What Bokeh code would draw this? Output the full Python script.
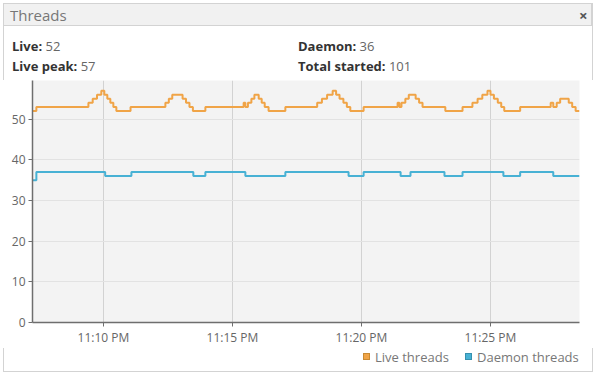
from datetime import datetime, timedelta
from bokeh.plotting import figure
from bokeh.layouts import column
from bokeh.models import (Range1d, FixedTicker, DatetimeTickFormatter, Div,
                          ColumnDataSource)
from bokeh.embed import file_html
from bokeh.resources import INLINE

# ---- data (minutes:seconds after 23:00) ----
live_times = ["07:15", "07:24", "09:25", "09:35", "09:45", "09:55", "10:02", "10:09", "10:16",
              "10:23", "10:30", "11:03", "12:24", "12:32", "12:40", "13:04", "13:12", "13:20",
              "13:28", "13:57", "15:26", "15:30", "15:36", "15:44", "15:51", "16:01", "16:08",
              "16:15", "16:24", "17:03", "18:17", "18:28", "18:40", "18:53", "19:01", "19:09",
              "19:18", "19:26", "19:34", "20:05", "21:24", "21:28", "21:33", "21:42", "21:50",
              "22:06", "22:14", "22:22", "23:15", "23:55", "24:18", "24:30", "24:41", "24:53",
              "25:00", "25:08", "25:17", "25:25", "25:32", "26:09", "27:20", "27:26", "27:34",
              "27:42", "28:02", "28:10", "28:18", "28:27"]
live_values = [52, 53, 54, 55, 56, 57, 56, 55, 54,
               53, 52, 53, 54, 55, 56, 55, 54, 53,
               52, 53, 54, 53, 54, 55, 56, 55, 54,
               53, 52, 53, 54, 55, 56, 57, 56, 55,
               54, 53, 52, 53, 54, 53, 54, 55, 56,
               55, 54, 53, 52, 53, 54, 55, 56, 57,
               56, 55, 54, 53, 52, 53, 54, 53, 54,
               55, 54, 53, 52, 52]

daemon_times = ["07:15", "07:24", "10:04", "11:05", "13:29", "13:57", "15:30", "17:03", "19:30",
                "20:05", "21:31", "21:54", "23:13", "23:55", "25:30", "26:09", "27:26", "28:27"]
daemon_values = [35, 37, 36, 37, 36, 37, 36, 37, 36,
                 37, 36, 37, 36, 37, 36, 37, 36, 36]

x_start, x_end = "07:15", "28:27"
x_tick_times = ["10:00", "15:00", "20:00", "25:00"]
y_ticks = [0, 10, 20, 30, 40, 50]
y_max = 59.5

panel_title = "Threads"
stat_names = ["Live:", "Live peak:", "Daemon:", "Total started:"]
stat_values = ["52", "57", "36", "101"]
series_names = ["Live threads", "Daemon threads"]

BASE = datetime(2017, 1, 1, 23, 0, 0)


def to_dt(s):
    m, sec = s.split(":")
    return BASE + timedelta(minutes=int(m), seconds=int(sec))


def to_ms(s):
    return (to_dt(s) - datetime(1970, 1, 1)).total_seconds() * 1000.0


ORANGE = "#F0A447"
BLUE = "#47B1D4"
ORANGE_EDGE = "#C98A33"
BLUE_EDGE = "#3690AE"
FONT = "Open Sans"
W = 600
BORDER = "#D3D3D3"

# ---------------- header + stats strip (HTML) ----------------
stat_pos = [(12, 36), (12, 56), (298, 36), (298, 56)]
spans = []
for name, val, (lx, ty) in zip(stat_names, stat_values, stat_pos):
    spans.append(
        f'<span style="position:absolute;left:{lx}px;top:{ty}px;line-height:20px;'
        f'font-size:13px;white-space:nowrap;color:#666666;">'
        f'<b style="color:#333333;">{name}</b> {val}</span>')
header_html = (
    f'<div style="position:relative;width:{W}px;height:80px;font-family:\'{FONT}\';'
    f'background:white;overflow:hidden;">'
    f'<div style="position:absolute;left:3px;top:3px;width:590px;height:77px;'
    f'border-left:1px solid {BORDER};border-right:1px solid {BORDER};"></div>'
    f'<div style="position:absolute;left:3px;top:3px;width:589px;height:23px;'
    f'background:#F1F1F1;border:1px solid {BORDER};"></div>'
    f'<span style="position:absolute;left:10px;top:4px;line-height:22px;font-size:15px;'
    f'color:#777777;">{panel_title}</span>'
    f'<span style="position:absolute;left:579px;top:4px;line-height:22px;font-size:15px;'
    f'font-weight:bold;color:#555555;">×</span>'
    + "".join(spans) +
    '</div>')
top = Div(text=header_html, width=W, height=80, margin=(0, 0, 0, 0))

# ---------------- chart ----------------
p = figure(width=W, height=268, x_axis_type="datetime",
           output_backend="svg", toolbar_location=None,
           x_range=Range1d(to_dt(x_start), to_dt(x_end)),
           y_range=Range1d(0, y_max),
           min_border_left=32, min_border_right=21,
           min_border_top=0, min_border_bottom=23, margin=(0, 0, 0, 0))
p.background_fill_color = "#F3F3F3"
p.border_fill_color = "white"
p.outline_line_color = None

p.yaxis.ticker = FixedTicker(ticks=y_ticks)
p.xaxis.ticker = FixedTicker(ticks=[to_ms(t) for t in x_tick_times])
fmt = "%I:%M %p"
p.xaxis.formatter = DatetimeTickFormatter(minutes=fmt, minsec=fmt, hourmin=fmt, hours=fmt,
                                          seconds=fmt, milliseconds=fmt)
for ax in (p.xaxis[0], p.yaxis[0]):
    ax.axis_line_color = "#6E6E6E"
    ax.axis_line_width = 1.5
    ax.major_tick_line_color = "#6E6E6E"
    ax.major_tick_out = 4
    ax.major_tick_in = 0
    ax.minor_tick_line_color = None
    ax.major_label_text_color = "#666666"
    ax.major_label_text_font = FONT
    ax.major_label_text_font_size = "12px"
p.yaxis.major_label_standoff = 3
p.xaxis.major_label_standoff = 2

p.xgrid.grid_line_color = "#D2D2D2"
p.ygrid.grid_line_color = "#E2E2E2"

live_src = ColumnDataSource(dict(x=[to_dt(t) for t in live_times], y=live_values))
daemon_src = ColumnDataSource(dict(x=[to_dt(t) for t in daemon_times], y=daemon_values))
p.step("x", "y", source=live_src, mode="after", line_color=ORANGE, line_width=2)
p.step("x", "y", source=daemon_src, mode="after", line_color=BLUE, line_width=2)

# ---------------- legend strip (HTML) ----------------
legend_items = [(series_names[0], ORANGE, ORANGE_EDGE, 363),
                (series_names[1], BLUE, BLUE_EDGE, 465)]
leg_parts = []
for name, fill, edge, lx in legend_items:
    leg_parts.append(
        f'<div style="position:absolute;left:{lx}px;top:5px;width:7px;height:7px;'
        f'background:{fill};border:1px solid {edge};"></div>'
        f'<span style="position:absolute;left:{lx + 12}px;top:0px;line-height:18px;'
        f'font-size:13px;white-space:nowrap;color:#777777;">{name}</span>')
legend_html = (
    f'<div style="position:relative;width:{W}px;height:27px;font-family:\'{FONT}\';'
    f'background:white;">'
    f'<div style="position:absolute;left:3px;top:0px;width:590px;height:24px;'
    f'border-left:1px solid {BORDER};border-right:1px solid {BORDER};'
    f'border-bottom:1px solid {BORDER};"></div>'
    + "".join(leg_parts) +
    '</div>')
legend_div = Div(text=legend_html, width=W, height=27, margin=(0, 0, 0, 0))

layout = column(top, p, legend_div, spacing=0)
open("out.html", "w").write(file_html(layout, INLINE))
